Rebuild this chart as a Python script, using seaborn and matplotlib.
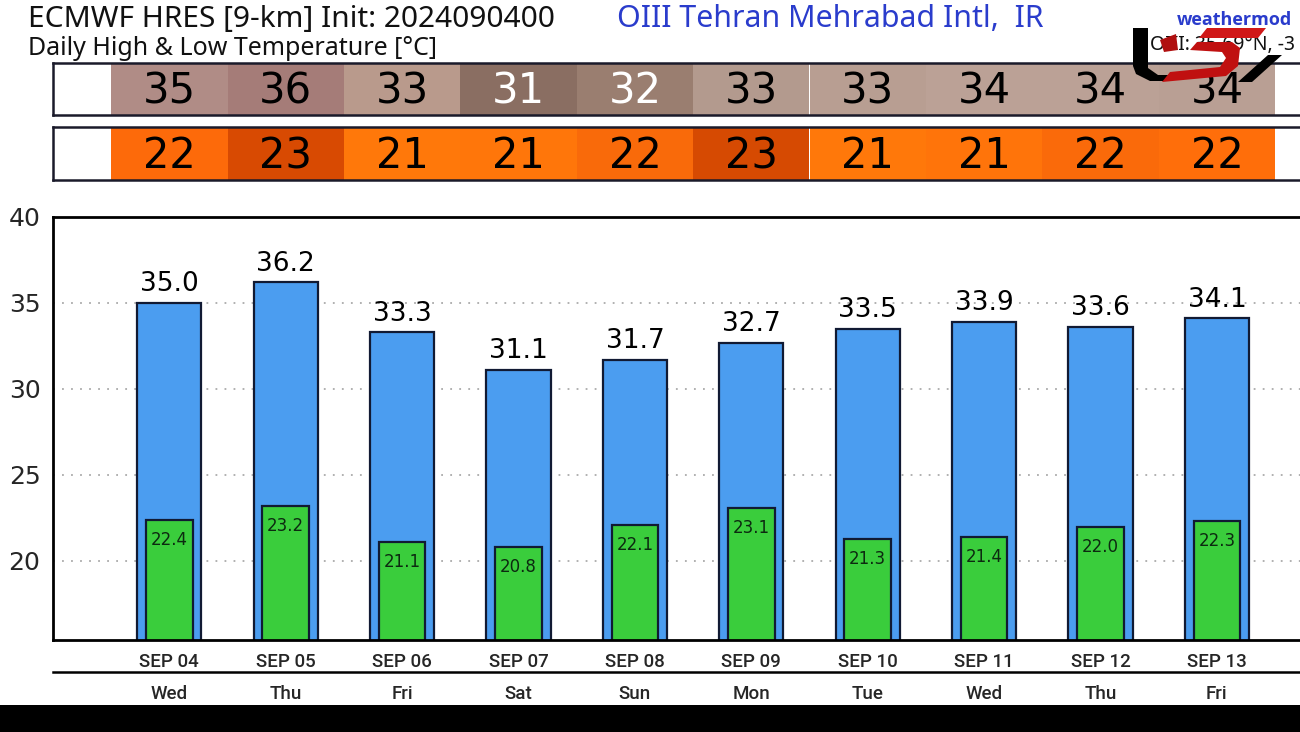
import matplotlib
matplotlib.use("Agg")
import matplotlib.pyplot as plt
import seaborn as sns
import numpy as np
import pandas as pd
from matplotlib.patches import Rectangle, Polygon

# ---------------- data ----------------
dates = ["SEP 04", "SEP 05", "SEP 06", "SEP 07", "SEP 08",
         "SEP 09", "SEP 10", "SEP 11", "SEP 12", "SEP 13"]
weekdays = ["Wed", "Thu", "Fri", "Sat", "Sun", "Mon", "Tue", "Wed", "Thu", "Fri"]
high_temps = [35.0, 36.2, 33.3, 31.1, 31.7, 32.7, 33.5, 33.9, 33.6, 34.1]
low_temps = [22.4, 23.2, 21.1, 20.8, 22.1, 23.1, 21.3, 21.4, 22.0, 22.3]
high_rounded = [35, 36, 33, 31, 32, 33, 33, 34, 34, 34]
low_rounded = [22, 23, 21, 21, 22, 23, 21, 21, 22, 22]
high_cell_colors = ["#b08c86", "#a57c78", "#b99a8c", "#8a6e62", "#9a7e70",
                    "#b39a8e", "#b89e92", "#bba196", "#bba196", "#b99f94"]
high_text_colors = ["black", "black", "black", "white", "white",
                    "black", "black", "black", "black", "black"]
low_cell_colors = ["#fd6a0a", "#d84a02", "#ff780a", "#ff760a", "#f96a0a",
                   "#d64a02", "#ff780a", "#ff740a", "#fa6a0a", "#ff6e0a"]
yticks = [20, 25, 30, 35, 40]

title_main = "ECMWF HRES [9-km] Init: 2024090400"
title_sub = "Daily High & Low Temperature [°C]"
station = "OIII Tehran Mehrabad Intl,  IR"
brand = "weathermod"
coords = "OIII: 35.69°N, -3"

sns.set_theme(style="white")
plt.rcParams["font.family"] = ["DejaVu Sans"]

W, H = 1300, 732
fig = plt.figure(figsize=(13, 7.32), dpi=100)
fig.patch.set_facecolor("white")

def fx(px):
    return px / W

def fy(py):
    return 1 - py / H

x_left, x_unit = 52.9, 116.4
x_right = x_left + 11 * x_unit
tick_font = dict(fontsize=13.5, family=["Roboto", "DejaVu Sans"], fontweight="medium")

# ---------------- main axes ----------------
ax = fig.add_axes([fx(x_left), fy(640), fx(x_right - x_left), (640 - 217) / H])
df = pd.DataFrame({"date": dates, "high": high_temps, "low": low_temps})
sns.barplot(data=df, x="date", y="high", color="#4b9df0", width=0.55,
            edgecolor="#111a33", linewidth=1.6, saturation=1, ax=ax)
sns.barplot(data=df, x="date", y="low", color="#3acd3c", width=0.4,
            edgecolor="#111a33", linewidth=1.6, saturation=1, ax=ax)
ax.set_xlim(-1, 10)
ax.set_ylim(15.4, 40)
ax.set_xlabel("")
ax.set_ylabel("")
ax.set_yticks(yticks)
ax.set_yticklabels([str(t) for t in yticks], fontsize=18)
ax.set_xticks(list(range(-1, 11)))
ax.set_xticklabels([""] + dates + [""], **tick_font)
ax.tick_params(axis="x", direction="out", length=7, width=1.5, color="black", pad=2.5)
ax.tick_params(axis="y", direction="out", length=6, width=1.5, color="black", pad=3)
for t in yticks[:-1]:
    ax.axhline(t, color="#aaaaaa", linestyle=(0, (1, 4)), linewidth=1.3, zorder=0)
for s in ["left", "top", "bottom"]:
    ax.spines[s].set_visible(True)
    ax.spines[s].set_color("black")
    ax.spines[s].set_linewidth(2)
ax.spines["right"].set_visible(False)
ax.set_facecolor("white")

for i, (h, l) in enumerate(zip(high_temps, low_temps)):
    ax.annotate(f"{h:.1f}", (i, h), xytext=(0, 4), textcoords="offset points",
                ha="center", va="bottom", fontsize=19, color="black")
    ax.annotate(f"{l:.1f}", (i, l), xytext=(0, -8), textcoords="offset points",
                ha="center", va="top", fontsize=12, color="#0c2a10")

# ---------------- weekday axis ----------------
axd = fig.add_axes([fx(x_left), fy(672), fx(x_right - x_left), 0.001])
axd.set_xlim(-1, 10)
axd.set_ylim(0, 1)
axd.set_facecolor("none")
for s in ["left", "top", "right"]:
    axd.spines[s].set_visible(False)
axd.spines["bottom"].set_color("black")
axd.spines["bottom"].set_linewidth(1.8)
axd.set_yticks([])
axd.set_xticks(list(range(-1, 11)))
axd.set_xticklabels([""] + weekdays + [""], **tick_font)
axd.tick_params(axis="x", direction="out", length=7, width=1.5, color="black", pad=2.5)

# ---------------- strips ----------------
def strip(py0, py1, colors, values, text_colors):
    a = fig.add_axes([fx(x_left), fy(py1), fx(x_right - x_left), (py1 - py0) / H])
    a.bar(range(len(values)), [1] * len(values), width=1.0, bottom=0,
          color=colors, linewidth=0)
    a.set_xlim(-1, 10)
    a.set_ylim(0, 1)
    a.set_xticks([])
    a.set_yticks([])
    a.set_facecolor("white")
    for s in ["left", "top", "bottom", "right"]:
        a.spines[s].set_color("#1a1a2a")
        a.spines[s].set_linewidth(1.8)
    for i, (v, tc) in enumerate(zip(values, text_colors)):
        a.text(i, 0.45, str(v), ha="center", va="center", fontsize=30, color=tc)
    return a

strip(63, 115, high_cell_colors, high_rounded, high_text_colors)
strip(127, 180, low_cell_colors, low_rounded, ["black"] * len(low_rounded))

# ---------------- header text ----------------
hdr = ["Noto Sans", "DejaVu Sans"]
fig.text(fx(28), fy(27), title_main, fontsize=21.5, family=hdr,
         color="#111111", va="baseline", ha="left")
fig.text(fx(28), fy(55), title_sub, fontsize=18, family=hdr,
         color="#111111", va="baseline", ha="left")
fig.text(fx(617), fy(27), station, fontsize=21.8, family=hdr,
         color="#2a3ccc", va="baseline", ha="left")
fig.text(fx(1177), fy(25), brand, fontsize=13, family=["Open Sans", "DejaVu Sans"],
         color="#2a3ccc", fontweight="bold", va="baseline", ha="left")
fig.text(fx(1150), fy(50), coords, fontsize=14, family=hdr,
         color="#111111", va="baseline", ha="left")

# ---------------- watermark logo (approximate) ----------------
def poly(points, color):
    pts = [(fx(x), fy(y)) for x, y in points]
    fig.patches.append(Polygon(pts, closed=True, transform=fig.transFigure,
                               facecolor=color, edgecolor="none", zorder=20))

poly([(1133, 28), (1148, 28), (1148, 68), (1158, 75), (1172, 75), (1168, 81),
      (1150, 81), (1136, 74), (1133, 66)], "black")
poly([(1207, 28), (1266, 28), (1258, 38), (1199, 38)], "#d01818")
poly([(1197, 42), (1232, 42), (1240, 48), (1238, 66), (1226, 76), (1162, 82),
      (1170, 72), (1220, 67), (1226, 58), (1222, 52), (1190, 50)], "#c01010")
poly([(1268, 55), (1282, 55), (1252, 82), (1238, 82)], "black")
poly([(1160, 40), (1176, 34), (1178, 50), (1164, 52)], "#b01010")

# ---------------- bottom black band ----------------
fig.patches.append(Rectangle((0, 0), 1, 27 / H, transform=fig.transFigure,
                             facecolor="black", edgecolor="none", zorder=30))

fig.savefig("out.png", dpi=100, facecolor="white")
